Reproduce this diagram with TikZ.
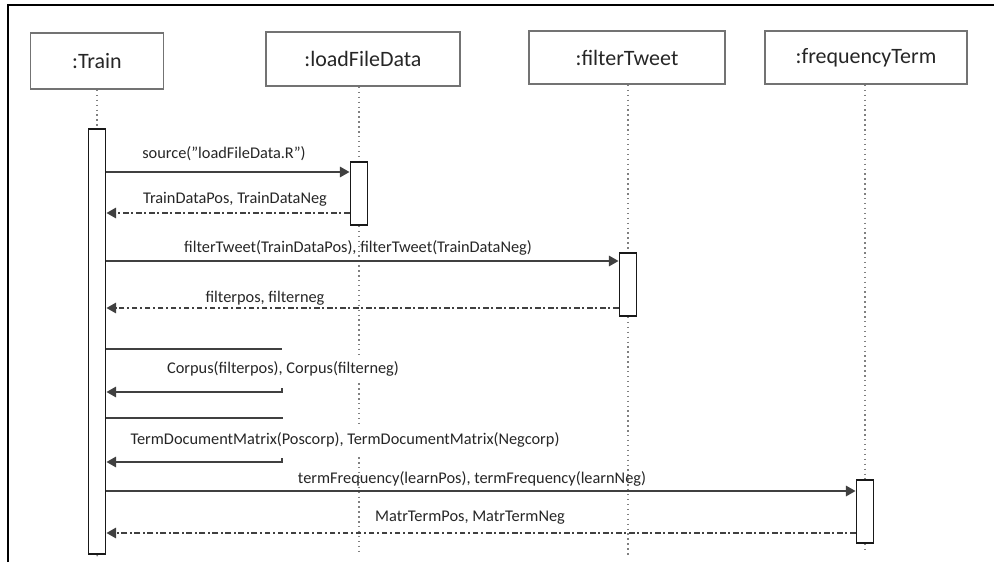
\documentclass[tikz,border=0pt]{standalone}
\usepackage{fontspec}
\setmainfont{Carlito}
\usetikzlibrary{arrows.meta}
\tikzset{
	objbox/.style={draw=black!55, line width=1pt, fill=white, inner sep=0pt, font=\fontsize{12.5}{14}\selectfont, text=black!85},
	actbox/.style={draw=black!90, line width=1.1pt, fill=white, minimum width=0.34cm, inner sep=0pt},
	lifeline/.style={draw=black!50, line width=0.8pt, dotted},
	call/.style={draw=black!75, line width=0.9pt, -{Triangle[length=5.5pt, width=6pt]}},
	reply/.style={draw=black!75, line width=0.9pt, dash pattern=on 3.4pt off 1.5pt on 1pt off 1.5pt, -{Triangle[length=5.5pt, width=6pt]}},
	msg/.style={font=\fontsize{9.3}{11}\selectfont, text=black!85, inner sep=1pt},
	gapmsg/.style={msg, fill=white, inner ysep=4pt}
}
\begin{document}
\begin{tikzpicture}[x=0.02cm, y=-0.02cm]
	\useasboundingbox (0,0) rectangle (994,562);
	% frame
	\draw[line width=1.2pt] (8,562) -- (8,5) -- (994,5);
	% objects
	\node[objbox, minimum width=2.66cm, minimum height=1.12cm] (train) at (97,61) {:Train};
	\node[objbox, minimum width=3.88cm, minimum height=1.08cm] (load) at (363,59) {:loadFileData};
	\node[objbox, minimum width=3.92cm, minimum height=1.06cm] (filter) at (627,57.5) {:filterTweet};
	\node[objbox, minimum width=4.04cm, minimum height=1.06cm] (freq) at (866,57.5) {:frequencyTerm};
	% lifeline ends
	\coordinate (trainend) at (98,558);
	\coordinate (loadend) at (359,553);
	\coordinate (filterend) at (628,555);
	\coordinate (freqend) at (865,553);
	% activations
	\node[actbox, minimum height=8.5cm] (trainact) at (97,341.5) {};
	\node[actbox, minimum height=1.26cm] (loadact) at (359,193.5) {};
	\node[actbox, minimum height=1.26cm] (filteract) at (628,284.5) {};
	\node[actbox, minimum height=1.26cm] (freqact) at (865,511.5) {};
	% lifelines
	\draw[lifeline] (train.south -| trainact) -- (trainact.north);
	\draw[lifeline] (trainact.south) -- (trainend);
	\draw[lifeline] (load.south -| loadact) -- (loadact.north);
	\draw[lifeline] (loadact.south) -- (loadend);
	\draw[lifeline] (filter.south -| filteract) -- (filteract.north);
	\draw[lifeline] (filteract.south) -- (filterend);
	\draw[lifeline] (freq.south -| freqact) -- (freqact.north);
	\draw[lifeline] (freqact.south) -- (freqend);
	% redraw activations over lifelines
	\node[actbox, minimum height=8.5cm] at (trainact) {};
	\node[actbox, minimum height=1.26cm] at (loadact) {};
	\node[actbox, minimum height=1.26cm] at (filteract) {};
	\node[actbox, minimum height=1.26cm] at (freqact) {};
	% messages
	\draw[call] (trainact.east |- 0,172) -- (loadact.west |- 0,172);
	\node[msg] (m1) at (224,154) {source("loadFileData.R")};
	\draw[reply] (loadact.west |- 0,213) -- (trainact.east |- 0,213);
	\node[msg] (r1) at (235,199) {TrainDataPos, TrainDataNeg};
	\draw[call] (trainact.east |- 0,261) -- (filteract.west |- 0,261);
	\node[msg] (m2) at (358,248) {filterTweet(TrainDataPos), filterTweet(TrainDataNeg)};
	\draw[reply] (filteract.west |- 0,308) -- (trainact.east |- 0,308);
	\node[msg] (r2) at (265,298) {filterpos, filterneg};
	% self calls
	\coordinate (s1top) at (282,349);
	\coordinate (s1bot) at (282,392);
	\draw[draw=black!75, line width=0.9pt] (trainact.east |- s1top) -- (s1top);
	\node[gapmsg] (s1) at (283,369) {Corpus(filterpos), Corpus(filterneg)};
	\draw[call] ([yshift=0.08cm]s1bot) -- (s1bot) -- (trainact.east |- s1bot);
	\coordinate (s2top) at (283,418);
	\coordinate (s2bot) at (282,462);
	\draw[draw=black!75, line width=0.9pt] (trainact.east |- s2top) -- (s2top);
	\node[gapmsg] (s2) at (345,440) {TermDocumentMatrix(Poscorp), TermDocumentMatrix(Negcorp)};
	\draw[call] ([yshift=0.08cm]s2bot) -- (s2bot) -- (trainact.east |- s2bot);
	\draw[call] (trainact.east |- 0,491) -- (freqact.west |- 0,491);
	\node[msg] (m3) at (472,479) {termFrequency(learnPos), termFrequency(learnNeg)};
	\draw[reply] (freqact.west |- 0,533) -- (trainact.east |- 0,533);
	\node[msg] (r3) at (470,518) {MatrTermPos, MatrTermNeg};
\end{tikzpicture}
\end{document}
